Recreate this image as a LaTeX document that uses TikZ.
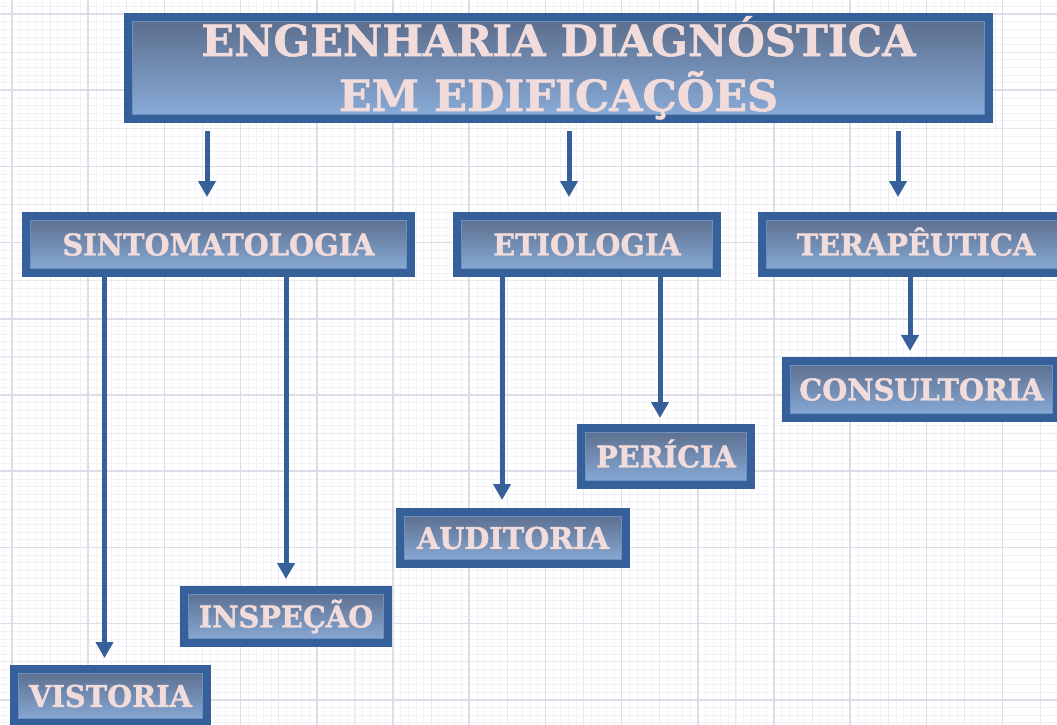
\documentclass[tikz,border=0pt]{standalone}
\usepackage{fontspec}
\setmainfont{DejaVu Serif}
\newfontfamily\boxfont{DejaVu Serif Bold}[FakeBold=1.3, FakeStretch=0.96]
\newfontfamily\titlefont{DejaVu Serif Bold}[FakeBold=1.3]
\usetikzlibrary{arrows.meta,calc}

\definecolor{bord}{HTML}{36609A}
\definecolor{gtop}{HTML}{5A6C8B}
\definecolor{gbot}{HTML}{8AADDA}
\definecolor{inedge}{HTML}{6F8FC0}
\definecolor{txt}{HTML}{F2DCDB}
\definecolor{gridmaj}{HTML}{DDDDE7}
\definecolor{gridmid}{HTML}{E9E9F0}
\definecolor{gridmin}{HTML}{F3F3F7}

\tikzset{
  box/.style={draw=bord, line width=8pt, top color=gtop, bottom color=gbot,
    inner sep=0pt, text=txt, font=\boxfont\fontsize{30}{30}\selectfont,
    text height=21.9pt, text depth=0pt,
    path picture={\draw[line width=1pt, inedge]
      ([shift={(4.5pt,-4.5pt)}]path picture bounding box.north west) rectangle
      ([shift={(-4.5pt,4.5pt)}]path picture bounding box.south east);}},
  arr/.style={draw=bord, line width=5pt, -{Triangle[width=17pt,length=16pt]}}
}

\begin{document}
\begin{tikzpicture}[x=1pt,y=-1pt]
\useasboundingbox (0,0) rectangle (1057,725);
\fill[white] (0,0) rectangle (1057,725);
% background grid
\foreach \i in {0,...,140} {
  \draw[gridmin, line width=0.6pt] ({12-76.2+\i*7.62},0) -- ++(0,725);
  \draw[gridmin, line width=0.6pt] (0,{14-76.2+\i*7.62}) -- ++(1057,0);
}
\foreach \i in {0,...,30} {
  \draw[gridmid, line width=0.9pt] ({12-76.2+\i*38.1},0) -- ++(0,725);
  \draw[gridmid, line width=0.9pt] (0,{14-76.2+\i*38.1}) -- ++(1057,0);
}
\foreach \i in {0,...,15} {
  \draw[gridmaj, line width=1.5pt] ({12+\i*76.2},0) -- ++(0,725);
  \draw[gridmaj, line width=1.5pt] (0,{14+\i*76.2}) -- ++(1057,0);
}

% nodes
\node[box, minimum width=861pt, minimum height=101pt, align=center,
      font=\titlefont\fontsize{43}{55}\selectfont, text height=86pt]
  (title) at (558.5,68) {ENGENHARIA DIAGNÓSTICA\\EM EDIFICAÇÕES};
\node[box, minimum width=385pt, minimum height=57pt] (sinto) at (218.5,244.5) {SINTOMATOLOGIA};
\node[box, minimum width=260pt, minimum height=57pt] (etio) at (587,244.5) {ETIOLOGIA};
\node[box, minimum width=308pt, minimum height=57pt] (terap) at (916,244.5) {TERAPÊUTICA};
\node[box, minimum width=271pt, minimum height=57pt] (consult) at (921.5,389.5) {CONSULTORIA};
\node[box, minimum width=170pt, minimum height=57pt] (peri) at (666,456.5) {PERÍCIA};
\node[box, minimum width=226pt, minimum height=52pt] (audit) at (513,538) {AUDITORIA};
\node[box, minimum width=204pt, minimum height=53pt] (insp) at (286,616.5) {INSPEÇÃO};
\node[box, minimum width=193pt, minimum height=54pt] (vist) at (110.5,696) {VISTORIA};

% connectors
\draw[arr, shorten <=8pt, shorten >=15pt] (title.south -| 207,0) -- (sinto.north -| 207,0);
\draw[arr, shorten <=8pt, shorten >=15pt] (title.south -| 569,0) -- (etio.north -| 569,0);
\draw[arr, shorten <=8pt, shorten >=15pt] (title.south -| 898,0) -- (terap.north -| 898,0);
\draw[arr, shorten >=7pt] (sinto.south -| 104.5,0) -- (vist.north -| 104.5,0);
\draw[arr, shorten >=7pt] (sinto.south -| 286,0) -- (insp.north -| 286,0);
\draw[arr, shorten >=8pt] (etio.south -| 502,0) -- (audit.north -| 502,0);
\draw[arr, shorten >=6pt] (etio.south -| 660,0) -- (peri.north -| 660,0);
\draw[arr, shorten >=6pt] (terap.south -| 910,0) -- (consult.north -| 910,0);
\end{tikzpicture}
\end{document}
